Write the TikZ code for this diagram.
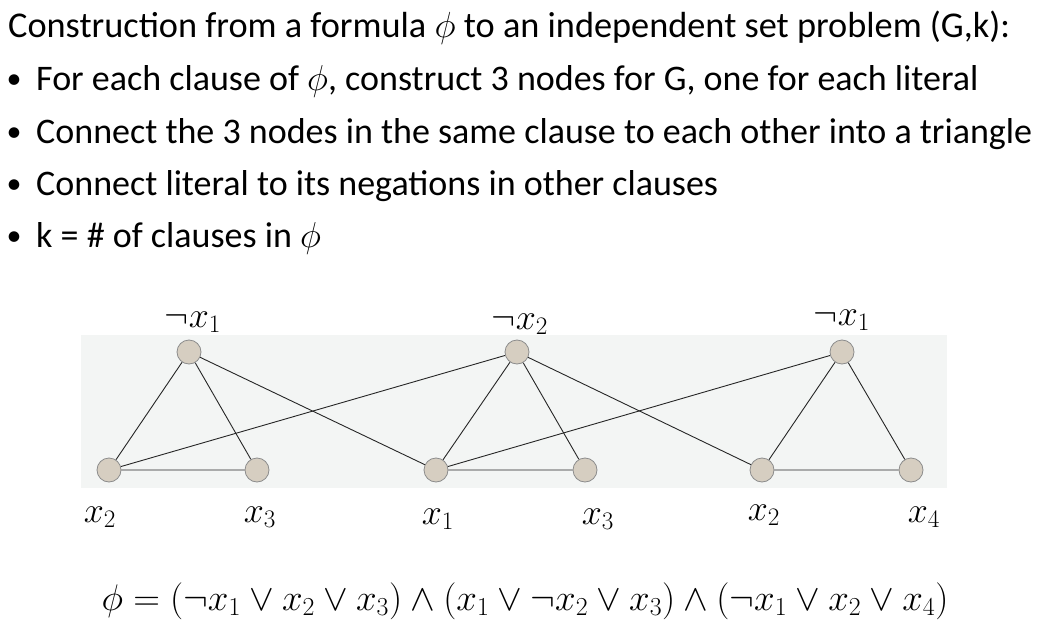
\RequirePackage{fix-cm}
\documentclass[tikz,border=0pt]{standalone}
\usepackage{fontspec}
\setmainfont{Carlito}
\begin{document}
\begin{tikzpicture}[x=1pt,y=-1pt,
  vert/.style={circle,draw=black!45,fill=bgnode,minimum size=24pt,inner sep=0pt,line width=0.8pt},
  lab/.style={font=\fontsize{36}{42}\selectfont,inner sep=0pt},
  ttl/.style={anchor=base west,inner sep=0pt,font=\fontsize{36.3}{42}\selectfont},
  txt/.style={anchor=base west,inner sep=0pt,font=\fontsize{36}{42}\selectfont},
  bul/.style={anchor=base,inner sep=0pt,font=\fontsize{30}{36}\selectfont},
  edge/.style={line width=0.9pt,black!85}]
\definecolor{bgnode}{RGB}{214,206,193}
\definecolor{bgpanel}{RGB}{243,245,244}
\useasboundingbox (0,0) rectangle (1042,637);
% text
\node[ttl] (t0) at (8,37) {Construction from a formula $\phi$ to an independent set problem (G,k):};
\node[bul] (u1) at (14,88) {•};
\node[bul] (u2) at (14,141) {•};
\node[bul] (u3) at (14,193) {•};
\node[bul] (u4) at (14,245) {•};
\node[txt] (b1) at (36,90) {For each clause of $\phi$, construct 3 nodes for G, one for each literal};
\node[txt] (b2) at (36,143) {Connect the 3 nodes in the same clause to each other into a triangle};
\node[txt] (b3) at (36,195) {Connect literal to its negations in other clauses};
\node[txt] (b4) at (36,247) {k = \# of clauses in $\phi$};
% panel
\fill[bgpanel] (81,335) rectangle (947,488);
% nodes
\node[vert] (a1) at (189,352) {};
\node[vert] (a2) at (109,470) {};
\node[vert] (a3) at (257,470) {};
\node[vert] (c1) at (517,352) {};
\node[vert] (c2) at (436,470) {};
\node[vert] (c3) at (585,470) {};
\node[vert] (d1) at (842,352) {};
\node[vert] (d2) at (762,470) {};
\node[vert] (d3) at (911,470) {};
% edges
\draw[edge] (a1) -- (a2) (a1) -- (a3) (a2) -- (a3);
\draw[edge] (c1) -- (c2) (c1) -- (c3) (c2) -- (c3);
\draw[edge] (d1) -- (d2) (d1) -- (d3) (d2) -- (d3);
\draw[edge] (a1) -- (c2);
\draw[edge] (a2) -- (c1);
\draw[edge] (c1) -- (d2);
\draw[edge] (c2) -- (d1);
% labels
\node[lab] (la1) at (193,322) {$\neg x_1$};
\node[lab] (la2) at (100,517) {$x_2$};
\node[lab] (la3) at (260,517) {$x_3$};
\node[lab] (lc1) at (520,324) {$\neg x_2$};
\node[lab] (lc2) at (438,519) {$x_1$};
\node[lab] (lc3) at (598,519) {$x_3$};
\node[lab] (ld1) at (842,320) {$\neg x_1$};
\node[lab] (ld2) at (764,515) {$x_2$};
\node[lab] (ld3) at (924,517) {$x_4$};
% formula
\node[anchor=base,inner sep=0pt,font=\fontsize{37}{44}\selectfont] (f) at (525,610)
  {$\phi = (\neg x_1 \vee x_2 \vee x_3) \wedge (x_1 \vee \neg x_2 \vee x_3) \wedge (\neg x_1 \vee x_2 \vee x_4)$};
\end{tikzpicture}
\end{document}
